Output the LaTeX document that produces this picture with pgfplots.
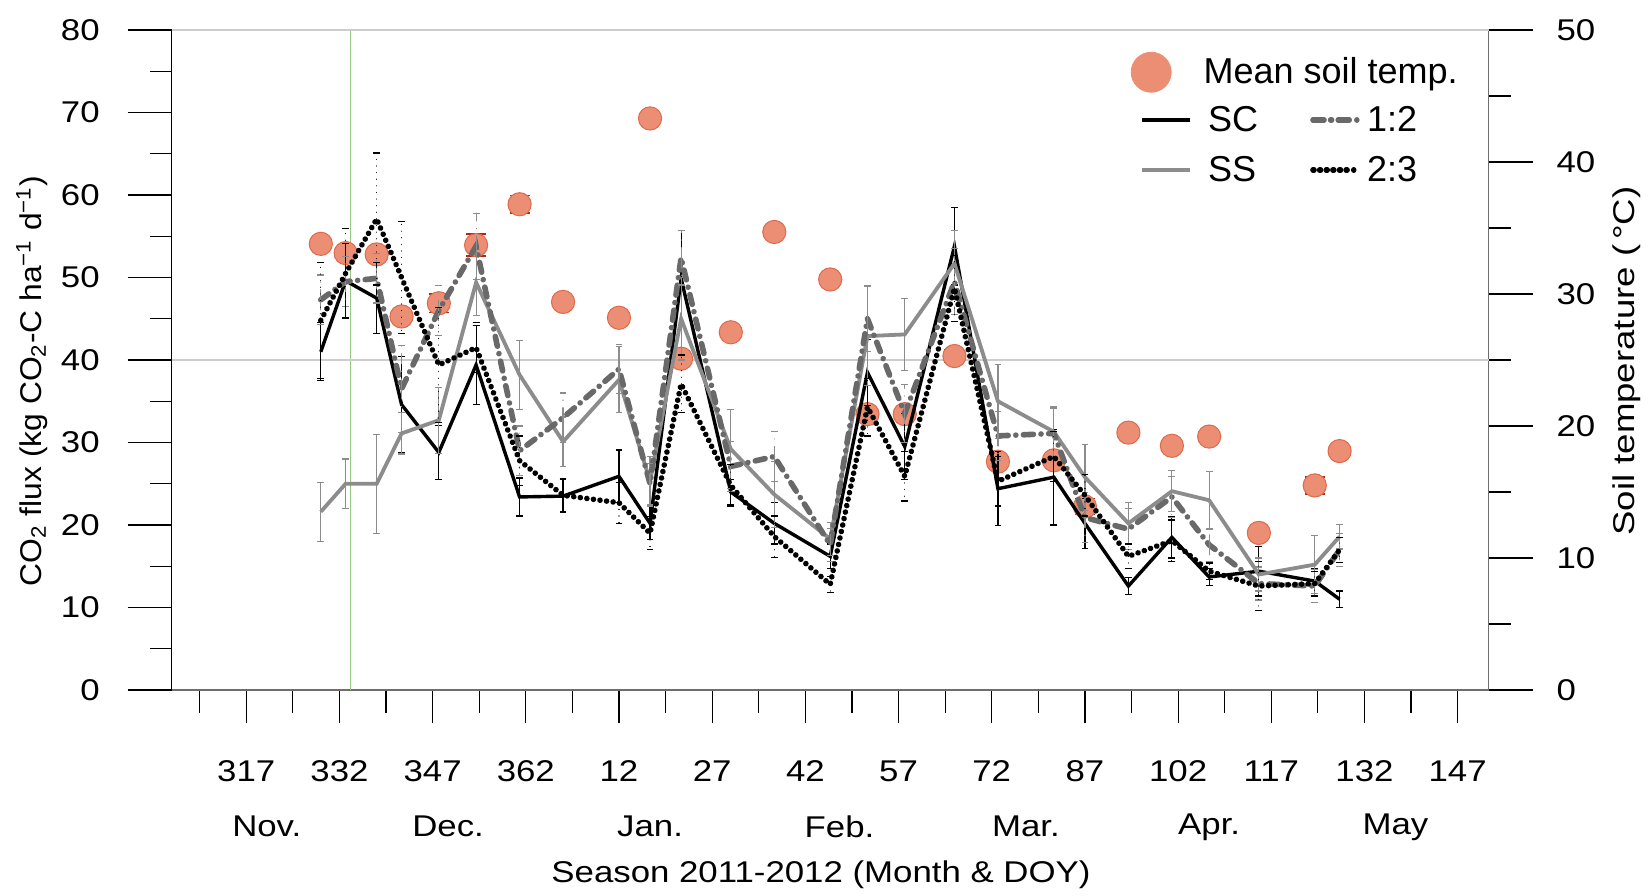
\documentclass[border=0pt]{standalone}
\usepackage{fontspec}
\setmainfont{Liberation Sans}
\newfontfamily\widefont{Liberation Sans}[FakeStretch=1.16]
\newfontfamily\ylabfont{Liberation Sans}[FakeStretch=1.06]
\newfontfamily\rlabfont{Liberation Sans}[FakeStretch=1.22]
\usepackage{pgfplots}
\pgfplotsset{compat=1.18}
\usepackage{pgfplotstable}

\definecolor{tempfill}{RGB}{236,142,116}
\definecolor{tempedge}{RGB}{222,105,75}
\definecolor{tempbar}{RGB}{175,40,15}
\definecolor{ssgray}{RGB}{140,140,140}
\definecolor{dashgray}{RGB}{105,105,105}
\definecolor{errgray}{RGB}{140,140,140}
\definecolor{gridgray}{RGB}{205,205,205}
\definecolor{axisgray}{RGB}{110,110,110}
\definecolor{cropgreen}{RGB}{150,200,130}

\newcommand\ticksize{\widefont\fontsize{15bp}{18bp}\selectfont}
\newcommand\legsize{\fontsize{18bp}{20bp}\selectfont}

% day of season (DOY, 2012 days shifted by 365), mean soil temperature and
% CO2 flux of the four treatments with their standard errors
\pgfplotstableread{
day temp terr sc  sce ss   sse a    ae  b    be
329 33.8 0.36 41.0 3.5 21.6 3.6 47.3 3.0 44.8 7.0
333 33.1 0.39 49.6 4.5 25.0 3.0 49.5 3.0 50.5 5.4
338 33.0 0.40 47.5 4.3 25.0 6.0 49.9 3.0 57.1 8.0
342 28.3 0.30 34.6 5.8 31.1 2.5 36.5 5.3 50.0 6.8
348 29.3 0.70 28.8 3.3 32.7 4.0 46.0 3.0 39.4 7.0
354 33.7 0.84 39.4 4.8 49.4 4.0 53.8 4.0 41.5 3.0
361 36.8 0.65 23.4 2.3 38.2 4.2 29.0 3.0 27.8 3.0
368 29.4 0.20 23.5 2.0 30.1 3.0 33.0 3.0 23.6 2.0
377 28.2 0.20 25.9 3.2 37.6 4.0 38.9 3.0 22.7 2.5
382 43.3 0.40 20.2 2.0 25.3 3.0 25.0 2.5 19.0 2.0
387 25.1 0.30 49.9 5.8 45.0 5.0 52.4 3.3 37.1 3.5
395 27.1 0.20 24.0 1.5 29.2 4.8 27.1 3.0 24.8 2.5
402 34.7 0.20 20.2 2.5 23.7 4.0 28.3 3.0 18.6 2.5
411 31.1 0.40 16.2 1.5 18.3 2.0 17.6 2.0 12.8 1.0
417 20.9 0.30 38.5 4.0 42.9 6.0 45.0 4.0 34.3 3.5
423 20.9 0.30 29.5 4.0 43.1 4.4 33.5 3.5 25.9 3.0
431 25.3 0.45 53.8 4.7 51.7 4.0 49.5 4.0 48.7 4.0
438 17.3 0.40 24.4 4.5 35.0 4.5 30.8 3.0 25.3 3.0
447 17.4 0.30 25.8 5.8 31.3 3.0 31.1 3.0 28.3 3.0
452 13.9 0.60 20.2 3.0 25.8 4.0 20.9 3.0 23.6 2.5
459 19.5 0.40 12.6 1.0 20.2 2.5 19.5 2.5 16.2 1.5
466 18.5 0.25 18.5 2.5 24.1 2.5 23.4 2.5 18.1 2.5
472 19.2 0.30 13.7 1.0 23.0 3.5 17.6 2.0 14.4 1.0
480 11.9 0.25 14.4 3.0 14.0 2.0 12.9 2.0 12.6 3.0
489 15.5 0.65 13.2 1.5 15.2 3.5 12.6 2.0 12.9 1.5
493 18.1 0.25 11.0 1.0 18.6 1.5 17.0 2.0 17.0 1.5
}\fluxdata

\pgfplotsset{
  frame/.style={
    at={(0,0)}, anchor=south west, scale only axis,
    width=658.5bp, height=330bp, xmin=305, xmax=517,
    tick align=outside,
    every tick/.style={black, line width=0.6bp},
    tick label style={font=\ticksize},
    /pgf/number format/assume math mode=true,
  },
  sebar/.style={error bars/.cd, y dir=both, y explicit,
    error bar style={#1, line width=0.6bp},
    error mark options={rotate=90, #1, mark size=1.7bp, line width=0.6bp}},
  % legend sample for the second legend column: its text sits closer to the line
  tight sample/.style={legend image code/.code={%
    \path (0bp,0bp) -- (17.7bp,0bp); \draw[##1, overlay] (0.5bp,0bp) -- (22bp,0bp);}},
}

\begin{document}
\begin{tikzpicture}
% time axis with DOY ticks and month names
\begin{axis}[frame, ymin=0, ymax=80,
  axis x line*=bottom, axis y line=none,
  x axis line style={axisgray, line width=0.6bp, -},
  major tick length=16.5bp, minor tick length=11.5bp,
  xtick={317,332,...,512},
  xticklabels={317,332,347,362,12,27,42,57,72,87,102,117,132,147},
  minor xtick={309.5,324.5,...,504.5},
  xticklabel style={anchor=center, yshift=-24bp},
  extra x ticks={320.3,349.5,382,412.5,442.5,472,502},
  extra x tick labels={Nov.,Dec.,Jan.,Feb.,Mar.,Apr.,May},
  extra x tick style={major tick length=0pt,
    xticklabel style={anchor=center, yshift=-44.4bp}},
  xlabel={Season 2011-2012 (Month \& DOY)},
  xlabel style={font=\widefont\fontsize{15bp}{18bp}\selectfont,
    at={(axis description cs:0.493,0)}, anchor=center, yshift=-92.5bp},
]
\addplot[cropgreen, line width=0.7bp] coordinates {(333.8,0) (333.8,80)};
\end{axis}

% soil temperature on the right-hand axis
\begin{axis}[frame, ymin=0, ymax=50,
  axis x line=none, axis y line*=right,
  y axis line style={axisgray, line width=0.6bp, -},
  major tick length=22bp, minor tick length=11bp,
  ytick={0,10,...,50}, minor ytick={5,15,...,45},
  yticklabel style={xshift=8.4bp},
  extra y ticks={25,50}, extra y tick labels={},
  extra y tick style={major tick length=0pt, grid=major},
  major grid style={gridgray, line width=0.6bp},
  ylabel={Soil temperature (\,°C)},
  ylabel style={font=\rlabfont\fontsize{15bp}{18bp}\selectfont,
    at={(axis description cs:1.105,0.4985)}, anchor=center, rotate=0},
  legend style={draw=none, fill=none, at={(0.7234,0.936)}, anchor=west,
    font=\legsize, legend cell align=left,
    /tikz/every odd column/.append style={column sep=14bp}},
]
\addplot[only marks, mark=*, mark size=5.8bp,
  mark options={fill=tempfill, draw=tempedge, line width=0.5bp},
  legend image code/.code={\fill[tempfill] (0bp,0bp) circle (10bp);},
  error bars/.cd, y dir=both, y explicit,
  error bar style={tempbar, line width=0.8bp},
  error mark options={rotate=90, tempbar, mark size=5bp, line width=0.8bp}]
  table[x=day, y=temp, y error=terr] {\fluxdata};
\addlegendentry{Mean soil temp.}
\end{axis}

% CO2 flux on the left-hand axis
\begin{axis}[frame, ymin=0, ymax=80,
  axis x line=none, axis y line*=left,
  y axis line style={black, line width=0.6bp, -},
  major tick length=22bp, minor tick length=11bp,
  ytick={0,10,...,80}, minor ytick={5,15,...,75},
  yticklabel style={xshift=-10.5bp},
  ylabel={CO\textsubscript{2} flux (kg CO\textsubscript{2}-C ha\textsuperscript{−1} d\textsuperscript{−1})},
  ylabel style={font=\ylabfont\fontsize{15bp}{18bp}\selectfont,
    at={(axis description cs:-0.1063,0.468)}, anchor=center},
  legend columns=2, transpose legend,
  legend image code/.code={\draw[#1] (0bp,0bp) -- (24bp,0bp);},
  legend style={draw=none, fill=none, at={(0.7307,0.8258)}, anchor=west,
    font=\legsize, legend cell align=left, row sep=7bp,
    /tikz/every odd column/.append style={column sep=6bp},
    /tikz/every even column/.append style={column sep=24bp}},
]
\addplot[black, line width=1.7bp, sebar=black] table[x=day, y=sc, y error=sce] {\fluxdata};
\addlegendentry{SC}
\addplot[ssgray, line width=1.9bp, sebar=errgray] table[x=day, y=ss, y error=sse] {\fluxdata};
\addlegendentry{SS}
\addplot[dashgray, line width=2.8bp, line cap=round,
  dash pattern=on 5bp off 3.8bp on 0.01bp off 3.8bp, tight sample, sebar=errgray]
  table[x=day, y=a, y error=ae] {\fluxdata};
\addlegendentry{1:2}
\addplot[black, line width=2.8bp, line cap=round,
  dash pattern=on 0.01bp off 3.3bp, tight sample, sebar=black]
  table[x=day, y=b, y error=be] {\fluxdata};
\addlegendentry{2:3}
\end{axis}
\pgfresetboundingbox
\path[use as bounding box] (-85.85bp,-103bp) rectangle (739.15bp,345bp);
\end{tikzpicture}
\end{document}
